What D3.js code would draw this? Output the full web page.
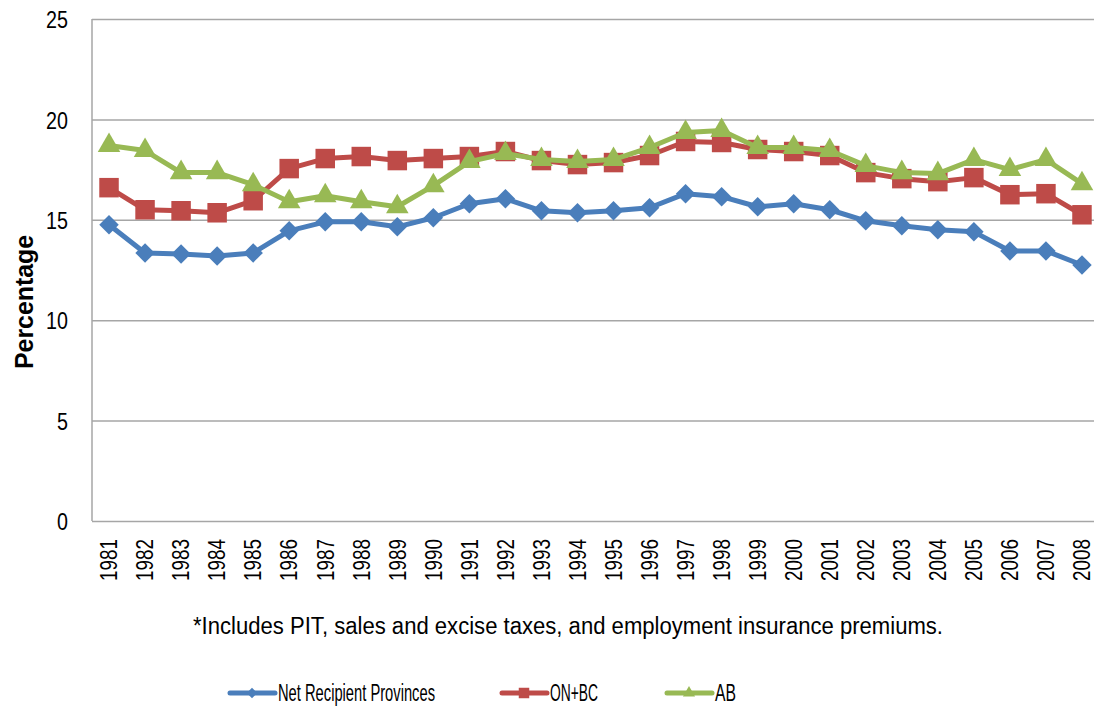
<!DOCTYPE html>
<html>
<head>
<meta charset="utf-8">
<script src="https://cdn.jsdelivr.net/npm/d3@7"></script>
<style>
  html, body { margin: 0; padding: 0; background: #fff; }
  svg text { font-family: "Liberation Sans", Arial, sans-serif; fill: #000; }
</style>
</head>
<body>
<svg id="chart" width="1094" height="708"></svg>
<script>
// Data
const years = ["1981","1982","1983","1984","1985","1986","1987","1988","1989","1990",
  "1991","1992","1993","1994","1995","1996","1997","1998","1999","2000",
  "2001","2002","2003","2004","2005","2006","2007","2008"];

const netRecipient = [14.75, 13.35, 13.3, 13.2, 13.35, 14.45, 14.9, 14.9, 14.65, 15.1,
  15.8, 16.05, 15.45, 15.35, 15.45, 15.6, 16.3, 16.15, 15.65, 15.8,
  15.5, 14.95, 14.7, 14.5, 14.4, 13.45, 13.45, 12.75];

const onBc = [16.6, 15.5, 15.45, 15.35, 15.95, 17.55, 18.05, 18.15, 17.95, 18.05,
  18.15, 18.4, 17.95, 17.75, 17.85, 18.2, 18.9, 18.85, 18.5, 18.4,
  18.2, 17.35, 17.05, 16.9, 17.1, 16.25, 16.3, 15.25];

const ab = [18.7, 18.45, 17.35, 17.35, 16.75, 15.9, 16.2, 15.9, 15.65, 16.7,
  17.9, 18.3, 18.0, 17.9, 18.0, 18.6, 19.35, 19.45, 18.6, 18.6,
  18.45, 17.7, 17.35, 17.3, 18.0, 17.5, 18.0, 16.8];

const yTicks = [0, 5, 10, 15, 20, 25];
const footnote = "*Includes PIT, sales and excise taxes, and employment insurance premiums.";

const series = [
  { name: "Net Recipient Provinces", values: netRecipient, color: "#4a7ebb", marker: "diamond" },
  { name: "ON+BC", values: onBc, color: "#be4b48", marker: "square" },
  { name: "AB", values: ab, color: "#98b954", marker: "triangle" }
];

const svg = d3.select("#chart");
const plotLeft = 92, plotTop = 19, plotRight = 1100, plotBottom = 521;

// the reference uses a condensed face, so squeeze the text to its width
const squeeze = (sel, ratio) => sel.each(function () {
  const w = this.getComputedTextLength();
  d3.select(this).attr("textLength", w * ratio).attr("lengthAdjust", "spacingAndGlyphs");
});
const fitTo = (sel, len) => sel.attr("textLength", len).attr("lengthAdjust", "spacingAndGlyphs");

const x = d3.scaleBand().domain(years).range([plotLeft - 1, plotRight]);
const y = d3.scaleLinear().domain([0, 25]).range([plotBottom, plotTop]);

// Gridlines + y labels
const yAxis = svg.append("g")
  .attr("transform", `translate(${plotLeft},0)`)
  .call(d3.axisLeft(y).tickValues(yTicks).tickSize(-(1094 - plotLeft)).tickPadding(24));
yAxis.select(".domain").remove();
yAxis.selectAll(".tick line").attr("stroke", "#a6a6a6").attr("stroke-width", 1.5);
yAxis.selectAll(".tick text").style("font-size", "24px").attr("dy", "0.36em")
  .call(squeeze, 0.82);

// Left axis line
svg.append("line").attr("x1", plotLeft).attr("x2", plotLeft).attr("y1", plotTop).attr("y2", plotBottom)
  .attr("stroke", "#a6a6a6").attr("stroke-width", 1.5);

// x labels
const xAxis = svg.append("g")
  .attr("transform", `translate(0,${plotBottom})`)
  .call(d3.axisBottom(x).tickSize(0).tickPadding(0));
xAxis.select(".domain").remove();
xAxis.selectAll(".tick text")
  .style("font-size", "23px")
  .attr("text-anchor", "end")
  .attr("transform", "rotate(-90)")
  .attr("x", -18)
  .attr("y", 0)
  .attr("dy", "0.36em")
  .call(squeeze, 0.82);

// Y title
svg.append("text")
  .attr("transform", "translate(33,302) rotate(-90)")
  .attr("text-anchor", "middle")
  .style("font-size", "26px")
  .style("font-weight", "bold")
  .text("Percentage")
  .call(fitTo, 134);

const symbolFor = (m, size) => {
  if (m === "diamond") return d3.symbol().type(d3.symbolSquare).size(size * 0.5)();
  if (m === "square") return d3.symbol().type(d3.symbolSquare).size(size)();
  return d3.symbol().type(d3.symbolTriangle).size(size * 0.58)();
};

const line = d3.line()
  .x((d, i) => x(years[i]) + x.bandwidth() / 2)
  .y(d => y(d));

const plot = svg.append("g");
series.forEach(s => {
  plot.append("path")
    .datum(s.values)
    .attr("fill", "none")
    .attr("stroke", s.color)
    .attr("stroke-width", 5)
    .attr("stroke-linejoin", "round")
    .attr("d", line);

  plot.selectAll(null)
    .data(s.values)
    .enter()
    .append("path")
    .attr("d", symbolFor(s.marker, 380))
    .attr("fill", s.color)
    .attr("transform", (d, i) => {
      const cx = x(years[i]) + x.bandwidth() / 2;
      const rot = s.marker === "diamond" ? " rotate(45)" : "";
      return `translate(${cx},${y(d)})${rot}`;
    });
});

// Footnote
svg.append("text")
  .attr("x", 568)
  .attr("y", 634)
  .attr("text-anchor", "middle")
  .style("font-size", "23px")
  .text(footnote)
  .call(fitTo, 750);

// Legend
const legendX = [230, 502, 667];
const legendLen = [157, 48, 21];
const legend = svg.append("g");
series.forEach((s, i) => {
  const g = legend.append("g").attr("transform", `translate(${legendX[i]},693)`);
  g.append("line").attr("x1", 0).attr("x2", 45).attr("y1", 0).attr("y2", 0)
    .attr("stroke", s.color).attr("stroke-width", 5).attr("stroke-linecap", "round");
  g.append("path")
    .attr("d", symbolFor(s.marker, 110))
    .attr("fill", s.color)
    .attr("transform", `translate(22,0)${s.marker === "diamond" ? " rotate(45)" : ""}`);
  g.append("text")
    .attr("x", 48)
    .attr("y", 0)
    .attr("dy", "0.36em")
    .style("font-size", "23px")
    .text(s.name)
    .call(fitTo, legendLen[i]);
});
</script>
</body>
</html>
